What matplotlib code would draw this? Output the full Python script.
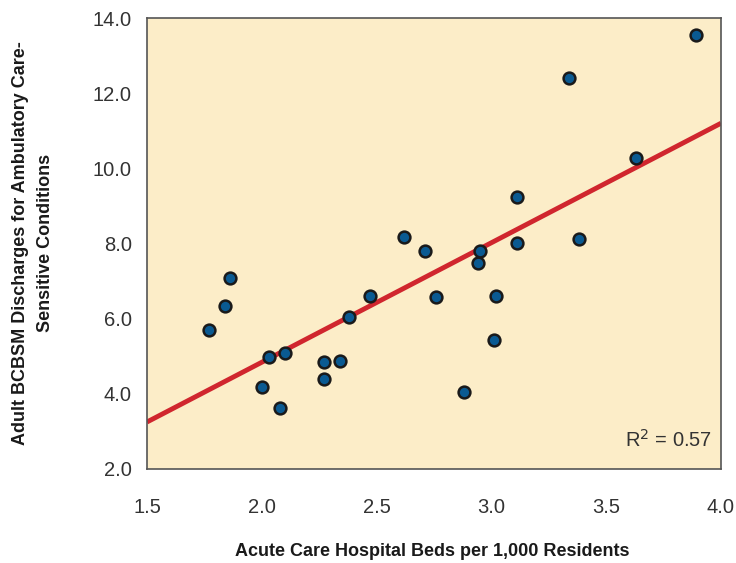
import matplotlib
matplotlib.use("Agg")
import matplotlib.pyplot as plt
import numpy as np

plt.rcParams['font.family'] = ["Liberation Sans", "DejaVu Sans"]

beds = [1.77, 1.84, 1.86, 2.00, 2.03, 2.08, 2.10, 2.27, 2.27, 2.34, 2.38, 2.47,
        2.62, 2.71, 2.76, 2.88, 2.94, 2.95, 3.01, 3.02, 3.11, 3.11, 3.34, 3.38,
        3.63, 3.89]
discharges = [5.70, 6.34, 7.08, 4.18, 4.98, 3.62, 5.09, 4.85, 4.40, 4.87, 6.04, 6.60,
              8.17, 7.80, 6.58, 4.05, 7.48, 7.80, 5.43, 6.60, 9.24, 8.01, 12.40, 8.12,
              10.28, 13.55]
fit_x = [1.5, 4.0]
fit_y = [3.25, 11.2]

xticks = [1.5, 2.0, 2.5, 3.0, 3.5, 4.0]
yticks = [2.0, 4.0, 6.0, 8.0, 10.0, 12.0, 14.0]

fig = plt.figure(figsize=(7.36, 5.63), dpi=100)
ax = fig.add_axes([0.1997, 0.167, 0.7799, 0.801])
ax.set_facecolor("#FCEDC8")
ax.plot(fit_x, fit_y, color="#D0262E", lw=3.5, zorder=2, solid_capstyle="butt")
ax.scatter(beds, discharges, s=72, color="#0A5A92", edgecolors="#1A1A1A", linewidths=1.8, zorder=3)
ax.set_xlim(1.5, 4.0)
ax.set_ylim(2.0, 14.0)
ax.set_xticks(xticks)
ax.set_xticklabels([f"{v:.1f}" for v in xticks])
ax.set_yticks(yticks)
ax.set_yticklabels([f"{v:.1f}" for v in yticks])
ax.tick_params(length=0, labelsize=14.5, colors="#333333")
ax.tick_params(axis='y', pad=11)
ax.tick_params(axis='x', pad=21)
for s in ax.spines.values():
    s.set_color("#555555")
    s.set_linewidth(1.2)
fig.text(432/736, 1 - 551/563, "Acute Care Hospital Beds per 1,000 Residents",
         ha="center", va="center", fontsize=13, fontweight="bold", color="#1a1a1a")
fig.text(33/736, 1 - 243/563, "Adult BCBSM Discharges for Ambulatory Care-\nSensitive Conditions",
         ha="center", va="center", rotation=90, fontsize=13, fontweight="bold",
         color="#1a1a1a", linespacing=1.55, multialignment="center")
ax.text(0.985, 0.04, r"R$^2$ = 0.57", transform=ax.transAxes, ha="right", va="bottom",
        fontsize=14.5, color="#333333")
fig.savefig("out.png", dpi=100)
